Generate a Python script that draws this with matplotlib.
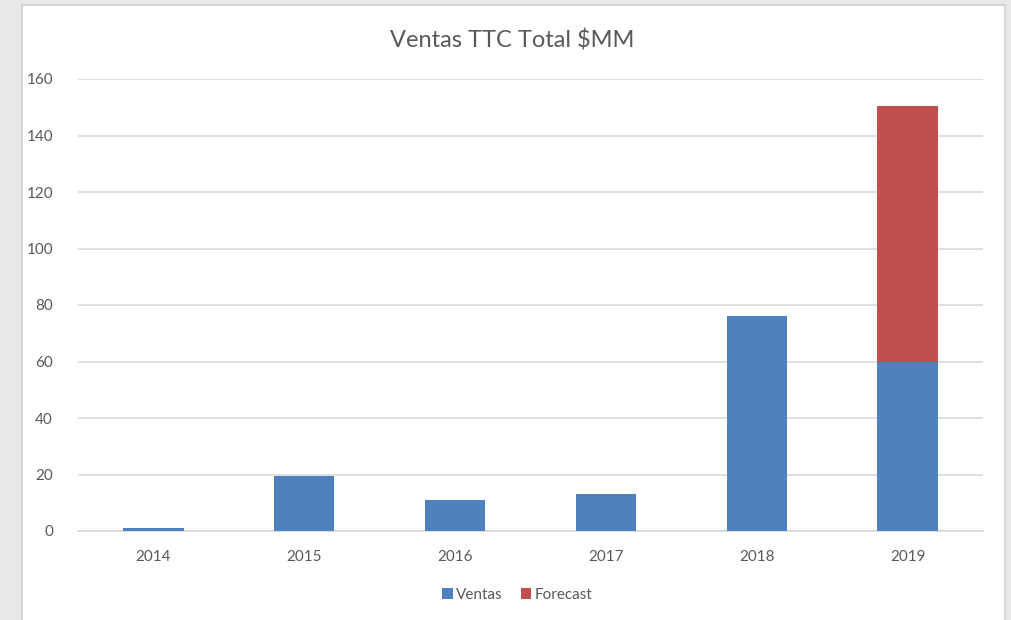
import matplotlib
matplotlib.use("Agg")
import matplotlib.pyplot as plt
from matplotlib.patches import Rectangle

years = ["2014", "2015", "2016", "2017", "2018", "2019"]
ventas = [1, 19.5, 11, 13, 76, 60]
forecast = [0, 0, 0, 0, 0, 90.5]
yticks = [0, 20, 40, 60, 80, 100, 120, 140, 160]

plt.rcParams['font.family'] = ['Lato', 'DejaVu Sans']

fig = plt.figure(figsize=(10.12, 6.2), dpi=100)
fig.patch.set_facecolor('#e8e8e8')
bg = Rectangle((22/1012, -0.01), (1005-22)/1012, (620-5)/620 + 0.01,
               transform=fig.transFigure, facecolor='white',
               edgecolor='#d0d0d0', linewidth=1.2, zorder=-10)
fig.patches.append(bg)

ax = fig.add_axes([78/1012, (620-531)/620, (983-78)/1012, (531-79)/620])
ax.set_zorder(5)
ax.set_facecolor('none')
x = list(range(len(years)))
blue = '#4f81bd'
red = '#c0504d'
ax.bar(x, ventas, width=0.40, color=blue, label='Ventas', zorder=3)
ax.bar(x, forecast, width=0.40, bottom=ventas, color=red, label='Forecast', zorder=3)

ax.set_xlim(-0.5, len(years) - 0.5)
ax.set_ylim(0, 160)
ax.set_yticks(yticks)
ax.set_xticks(x)
ax.set_xticklabels(years)
ax.yaxis.grid(True, color='#d9d9d9', linewidth=1.2, zorder=0)
ax.set_axisbelow(True)
for s in ['top', 'right', 'left']:
    ax.spines[s].set_visible(False)
ax.spines['bottom'].set_color('#d9d9d9')
ax.spines['bottom'].set_linewidth(1.2)
ax.tick_params(axis='both', length=0, labelsize=11, labelcolor='#595959')
ax.tick_params(axis='x', pad=14)
ax.tick_params(axis='y', pad=18)

fig.text(512/1012, (620-40)/620, 'Ventas TTC Total $MM', ha='center', va='center',
         fontsize=17, color='#595959', zorder=6)

ax.legend(loc='center', bbox_to_anchor=(517/1012, (620-595)/620),
          bbox_transform=fig.transFigure, ncol=2, frameon=False,
          fontsize=11, labelcolor='#595959', handlelength=0.7, handleheight=0.7,
          handletextpad=0.2, columnspacing=1.2)

fig.savefig('out.png', dpi=100, facecolor=fig.get_facecolor())
